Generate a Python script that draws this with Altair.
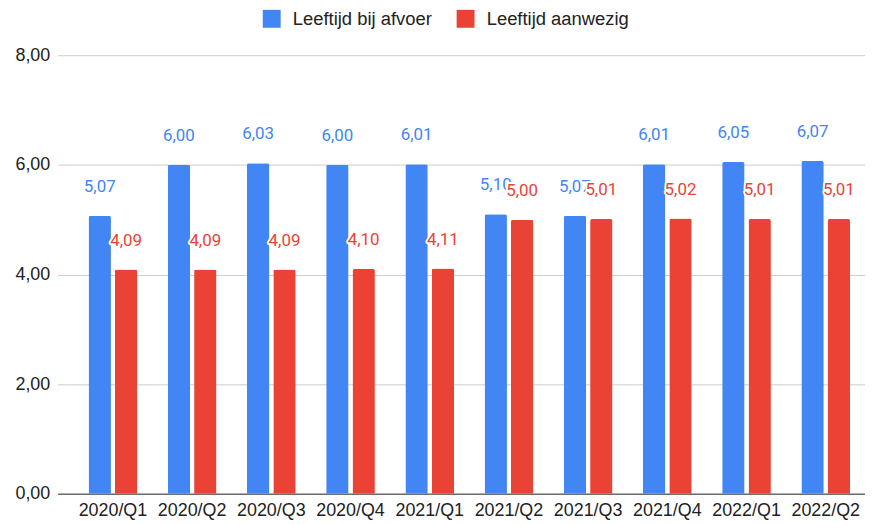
import altair as alt
import pandas as pd

cats = ["2020/Q1", "2020/Q2", "2020/Q3", "2020/Q4", "2021/Q1",
        "2021/Q2", "2021/Q3", "2021/Q4", "2022/Q1", "2022/Q2"]
series = ["Leeftijd bij afvoer", "Leeftijd aanwezig"]
afvoer = [5.07, 6.00, 6.03, 6.00, 6.01, 5.10, 5.07, 6.01, 6.05, 6.07]
aanwezig = [4.09, 4.09, 4.09, 4.10, 4.11, 5.00, 5.01, 5.02, 5.01, 5.01]
colors = ["#4285F4", "#EA4335"]
y_ticks = [0, 2, 4, 6, 8]

rows = []
for c, a, b in zip(cats, afvoer, aanwezig):
    rows.append({"cat": c, "series": series[0], "value": a})
    rows.append({"cat": c, "series": series[1], "value": b})
df = pd.DataFrame(rows)

AX_FONT = "Liberation Sans"
LBL_FONT = "Roboto"

base = alt.Chart(df).transform_calculate(
    label="replace(format(datum.value, '.2f'), '.', ',')"
)

x = alt.X("cat:N", sort=cats,
          scale=alt.Scale(paddingInner=0.385, paddingOuter=0.289, align=0.674),
          axis=alt.Axis(title=None, labelAngle=0, ticks=False, domainColor="#333",
                        labelFont=AX_FONT, labelFontSize=18, labelColor="#222",
                        labelPadding=8, grid=False))
xo = alt.XOffset("series:N", sort=series,
                 scale=alt.Scale(domain=series, paddingInner=0.15, paddingOuter=0))
y = alt.Y("value:Q", scale=alt.Scale(domain=[0, 8], nice=False),
          axis=alt.Axis(title=None, values=y_ticks,
                        labelExpr="replace(format(datum.value, '.2f'), '.', ',')",
                        domain=False, ticks=False, gridColor="#cccccc",
                        labelFont=AX_FONT, labelFontSize=18, labelColor="#222",
                        labelPadding=8))
color = alt.Color("series:N", sort=series,
                  scale=alt.Scale(domain=series, range=colors),
                  legend=alt.Legend(title=None, orient="none", legendX=206, legendY=-46,
                                    direction="horizontal", symbolType="square",
                                    symbolSize=324, symbolStrokeWidth=0,
                                    labelFont=AX_FONT, labelFontSize=18.5,
                                    labelColor="#222", labelOffset=12,
                                    columnPadding=24))

bars = base.mark_bar(cornerRadiusTopLeft=2, cornerRadiusTopRight=2).encode(
    x=x, xOffset=xo, y=y, color=color
)

blue_txt = base.transform_filter(alt.datum.series == series[0]).mark_text(
    font=LBL_FONT, fontSize=17, baseline="middle", dy=-29, color=colors[0]
).encode(x=x, xOffset=xo, y=y, text="label:N")

red_halo = base.transform_filter(alt.datum.series == series[1]).mark_text(
    font=LBL_FONT, fontSize=17, baseline="middle", dy=-29, color="white",
    stroke="white", strokeWidth=4, strokeJoin="round"
).encode(x=x, xOffset=xo, y=y, text="label:N")

red_txt = base.transform_filter(alt.datum.series == series[1]).mark_text(
    font=LBL_FONT, fontSize=17, baseline="middle", dy=-29, color=colors[1]
).encode(x=x, xOffset=xo, y=y, text="label:N")

chart = alt.layer(bars, blue_txt, red_halo, red_txt).properties(
    width=812, height=441,
    padding={"left": 6, "top": 0, "right": 0, "bottom": 0},
).configure(background="white").configure_view(stroke=None)

chart.save("out.html", embed_options={"renderer": "svg", "actions": False})
